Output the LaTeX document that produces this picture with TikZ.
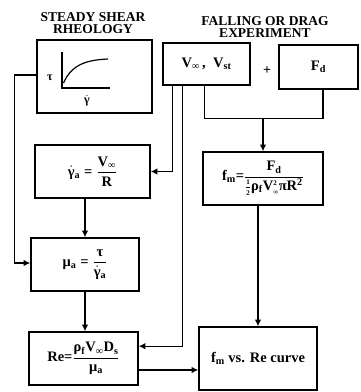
\documentclass[tikz,border=0pt]{standalone}
\usepackage{fontspec}
\setmainfont{Liberation Serif}
\usetikzlibrary{arrows.meta,calc}
\newcommand{\myfrac}[2]{$\displaystyle\frac{\mbox{#1}}{\mbox{#2}}$}
\newcommand{\gdot}{$\dot{\mbox{γ}}$}
\newcommand{\sbs}[1]{\textsubscript{#1}}
\newcommand{\supsb}[3]{#1$^{\mbox{\scriptsize #2}}_{\mbox{\scriptsize #3}}$}
\begin{document}
\begin{tikzpicture}[x=1pt,y=-1pt,
  box/.style={draw,line width=1.6pt,inner sep=0pt,font=\fontsize{14.5}{15}\selectfont\bfseries},
  conn/.style={line width=1.2pt},
  arr/.style={conn,-{Latex[length=6.5pt,width=6.5pt]}},
  ttl/.style={align=center,font=\fontsize{13.5}{12}\selectfont\bfseries,inner sep=0pt}]
\useasboundingbox (0,0) rectangle (361,392);
% titles
\node[ttl] (t1) at (93,23) {STEADY SHEAR\\RHEOLOGY};
\node[ttl] (t2) at (265,27) {FALLING OR DRAG\\EXPERIMENT};
% boxes
\node[box,minimum width=115pt,minimum height=73pt] (rh) at (94.5,76.5) {};
\node[box,minimum width=87pt,minimum height=42pt] (vv) at (206.5,64) {V\sbs{∞}\,,\enspace V\sbs{st}};
\node[font=\fontsize{14}{15}\selectfont\bfseries] (plus) at (267,71) {+};
\node[box,minimum width=79pt,minimum height=44pt] (fd) at (318.5,67) {F\sbs{d}};
\node[box,minimum width=115pt,minimum height=53pt] (ga) at (92.5,171.5) {\gdot\sbs{a}\;=\;\myfrac{V\sbs{∞}}{R}};
\node[box,minimum width=120pt,minimum height=53pt] (fm) at (263,178.5) {f\sbs{m}=\myfrac{F\sbs{d}}{$\frac{\mbox{\scriptsize 1}}{\mbox{\scriptsize 2}}$ρ\sbs{f}\supsb{V}{2}{∞}πR\textsuperscript{2}}};
\node[box,minimum width=108pt,minimum height=53pt] (mu) at (85,264.5) {μ\sbs{a}\;=\;\myfrac{τ}{\gdot\sbs{a}}};
\node[box,minimum width=109pt,minimum height=53pt] (re) at (83.5,358.5) {Re=\myfrac{ρ\sbs{f}V\sbs{∞}D\sbs{s}}{μ\sbs{a}}};
\node[box,minimum width=118pt,minimum height=63pt] (cv) at (258,358.5) {f\sbs{m} vs. Re curve};
% rheology plot
\draw[line width=1.2pt] (62,52) -- (62,88) -- (110,88);
\draw[line width=1.2pt] (63.5,83) .. controls (71,66) and (84,60) .. (108,59);
\node[font=\fontsize{12}{13}\selectfont\bfseries] (tau) at (50,78) {τ};
\node[font=\fontsize{12}{13}\selectfont\bfseries] (gdl) at (87,101) {\gdot};
% connectors
\coordinate (a1) at ($(rh.west)+(0,-1.5)$);
\coordinate (m1) at ($(mu.west)+(0,-1.5)$);
\draw[arr] (a1) -- ++(-22,0) |- (m1);
\coordinate (v1) at ($(vv.south west)+(10,0)$);
\coordinate (v2) at ($(vv.south west)+(20,0)$);
\coordinate (v3) at ($(vv.south west)+(42,0)$);
\coordinate (fdb) at ($(fd.south)+(4.5,0)$);
\coordinate (r2) at ($(re.north east)+(0,15)$);
\draw[arr] (v1) |- (ga.east);
\draw[arr] (v2) |- (r2);
\coordinate (jn) at ($(v3)+(0,33)$);
\draw[conn] (v3) -- (jn) -| (fdb);
\draw[arr] (fm.north |- jn) -- (fm.north);
\draw[arr] (mu.north |- ga.south) -- (mu.north);
\draw[arr] (mu.south) -- (mu.south |- re.north);
\draw[arr] (cv.north |- fm.south) -- (cv.north);
\coordinate (r1) at ($(re.east)+(0,11.5)$);
\draw[arr] (r1) -- (cv.west |- r1);
\end{tikzpicture}
\end{document}
